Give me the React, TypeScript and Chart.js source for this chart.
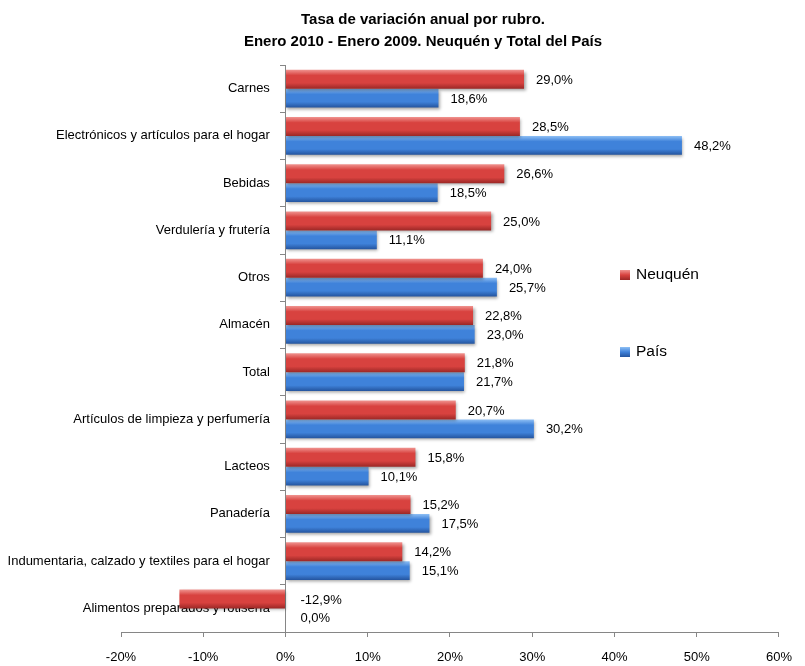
import { useEffect, useRef } from "react";
import { Chart, registerables } from "chart.js";

Chart.register(...registerables);

const categories = [
  "Carnes",
  "Electrónicos y artículos para el hogar",
  "Bebidas",
  "Verdulería y frutería",
  "Otros",
  "Almacén",
  "Total",
  "Artículos de limpieza y perfumería",
  "Lacteos",
  "Panadería",
  "Indumentaria, calzado y textiles para el hogar",
  "Alimentos preparados y rotisería",
];

const neuquen = [29.0, 28.5, 26.6, 25.0, 24.0, 22.8, 21.8, 20.7, 15.8, 15.2, 14.2, -12.9];
const pais = [18.6, 48.2, 18.5, 11.1, 25.7, 23.0, 21.7, 30.2, 10.1, 17.5, 15.1, 0.0];

const seriesNames = ["Neuquén", "País"];
const titleLines = [
  "Tasa de variación anual por rubro.",
  "Enero 2010 - Enero 2009. Neuquén y Total del País",
];

const xMin = -20;
const xMax = 60;
const xStep = 10;

const FONT = '"Liberation Sans", Arial, Helvetica, sans-serif';

const palettes = [
  { light: "#f09490", mid: "#d8423f", dark: "#9c2826" },
  { light: "#8fc0f5", mid: "#3f82da", dark: "#24549e" },
];

const fmt = (v: number) => v.toFixed(1).replace(".", ",") + "%";

const barStylePlugin = {
  id: "barStyle",
  beforeDatasetsDraw(chart: any) {
    const ctx = chart.ctx as CanvasRenderingContext2D;
    chart.data.datasets.forEach((_ds: any, di: number) => {
      const meta = chart.getDatasetMeta(di);
      const pal = palettes[di];
      meta.data.forEach((el: any) => {
        const top = el.y - el.height / 2;
        const g = ctx.createLinearGradient(0, top, 0, top + el.height);
        g.addColorStop(0, pal.light);
        g.addColorStop(0.3, pal.mid);
        g.addColorStop(0.7, pal.mid);
        g.addColorStop(1, pal.dark);
        el.options = { ...el.options, backgroundColor: g };
      });
    });
    ctx.save();
    ctx.shadowColor = "rgba(0,0,0,0.35)";
    ctx.shadowBlur = 3;
    ctx.shadowOffsetX = 1.5;
    ctx.shadowOffsetY = 2;
  },
  afterDatasetsDraw(chart: any) {
    const ctx = chart.ctx as CanvasRenderingContext2D;
    ctx.restore();
    ctx.save();
    ctx.font = `13px ${FONT}`;
    ctx.fillStyle = "#000";
    ctx.textAlign = "left";
    ctx.textBaseline = "middle";
    const xs = chart.scales.x;
    chart.data.datasets.forEach((ds: any, di: number) => {
      const meta = chart.getDatasetMeta(di);
      meta.data.forEach((el: any, i: number) => {
        const v = ds.data[i] as number;
        const x = xs.getPixelForValue(Math.max(v, 0)) + (v > 0 ? 12 : 15);
        ctx.fillText(fmt(v), x, el.y + 1);
      });
    });
    ctx.restore();
  },
};

const titlePlugin = {
  id: "customTitle",
  afterDraw(chart: any) {
    const ctx = chart.ctx as CanvasRenderingContext2D;
    ctx.save();
    ctx.font = `bold 15px ${FONT}`;
    ctx.fillStyle = "#000";
    ctx.textAlign = "center";
    ctx.textBaseline = "middle";
    titleLines.forEach((line, i) => {
      ctx.fillText(line, 423, 20 + i * 22);
    });
    ctx.restore();
  },
};

const legendPlugin = {
  id: "customLegend",
  afterDraw(chart: any) {
    const ctx = chart.ctx as CanvasRenderingContext2D;
    ctx.save();
    ctx.font = `15.5px ${FONT}`;
    ctx.textAlign = "left";
    ctx.textBaseline = "middle";
    chart.data.datasets.forEach((ds: any, di: number) => {
      const cy = 275 + di * 77;
      const pal = palettes[di];
      const g = ctx.createLinearGradient(0, cy - 5, 0, cy + 5);
      g.addColorStop(0, pal.light);
      g.addColorStop(0.5, pal.mid);
      g.addColorStop(1, pal.dark);
      ctx.fillStyle = g;
      ctx.fillRect(620, cy - 5, 10, 10);
      ctx.fillStyle = "#000";
      ctx.fillText(ds.label, 636, cy);
    });
    ctx.restore();
  },
};

export default function App() {
  const canvasRef = useRef<HTMLCanvasElement | null>(null);

  useEffect(() => {
    document.body.style.margin = "0";
    const canvas = canvasRef.current;
    if (!canvas) return;
    const chart = new Chart(canvas, {
      type: "bar",
      data: {
        labels: categories,
        datasets: [
          {
            label: seriesNames[0],
            data: neuquen,
            backgroundColor: palettes[0].mid,
            borderWidth: 0,
            categoryPercentage: 0.8,
            barPercentage: 1.0,
          },
          {
            label: seriesNames[1],
            data: pais,
            backgroundColor: palettes[1].mid,
            borderWidth: 0,
            categoryPercentage: 0.8,
            barPercentage: 1.0,
          },
        ],
      },
      options: {
        indexAxis: "y",
        animation: false,
        responsive: true,
        maintainAspectRatio: false,
        layout: { padding: { left: 121, right: 13, top: 65, bottom: 0 } },
        plugins: {
          legend: { display: false },
          title: { display: false },
          tooltip: { enabled: false },
        },
        scales: {
          x: {
            type: "linear",
            min: xMin,
            max: xMax,
            afterFit: (scale: any) => {
              scale.height = 34;
            },
            ticks: {
              stepSize: xStep,
              padding: 13,
              color: "#000",
              font: { size: 13, family: FONT },
              callback: (v: any) => `${v}%`,
            },
            grid: {
              drawOnChartArea: false,
              drawTicks: true,
              tickLength: 5,
              color: "#868686",
            },
            border: { display: true, color: "#868686" },
          },
          y: {
            type: "category",
            position: { x: 0 } as any,
            offset: true,
            z: 1,
            ticks: { display: false },
            grid: {
              drawOnChartArea: false,
              drawTicks: true,
              tickLength: 5,
              offset: true,
              color: "#868686",
            },
            border: { display: true, color: "#868686" },
          },
          yLabels: {
            type: "category",
            axis: "y",
            position: { x: -1.9 } as any,
            offset: true,
            z: 2,
            ticks: {
              color: "#000",
              font: { size: 13, family: FONT },
              autoSkip: false,
            },
            grid: { display: false, offset: true },
            border: { display: false },
          },
        },
      },
      plugins: [barStylePlugin, titlePlugin, legendPlugin],
    });
    return () => chart.destroy();
  }, []);

  return (
    <div style={{ position: "relative", width: "805px", height: "666px" }}>
      <canvas ref={canvasRef} />
    </div>
  );
}
